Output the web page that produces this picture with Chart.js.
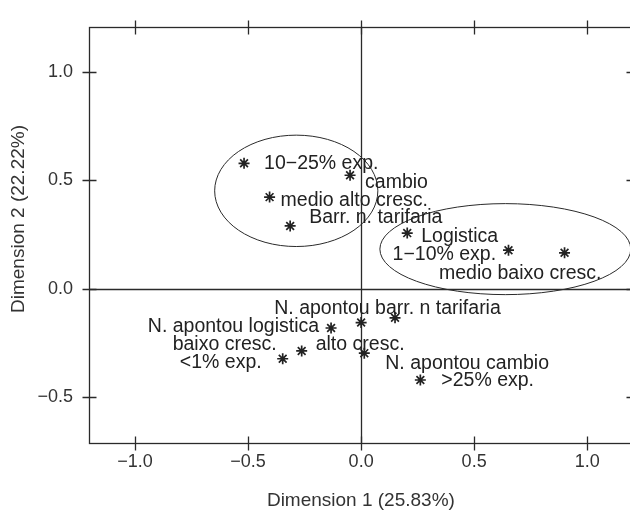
<!DOCTYPE html>
<html>
<head>
<meta charset="utf-8">
<script src="https://cdn.jsdelivr.net/npm/chart.js@4/dist/chart.umd.min.js"></script>
<style>
  html, body { margin: 0; padding: 0; overflow: hidden; background: #fff; }
  canvas { display: block; }
</style>
</head>
<body>
<canvas id="c" width="640" height="512"></canvas>
<script>
// Category coordinates on the first two dimensions
const categories = [
  "10\u221225% exp.", "cambio", "medio alto cresc.", "Barr. n. tarifaria",
  "Logistica", "1\u221210% exp.", "medio baixo cresc.",
  "N. apontou barr. n tarifaria", "alto cresc.", "N. apontou logistica",
  "baixo cresc.", "<1% exp.", "N. apontou cambio", ">25% exp."
];
const dim1 = [-0.518, -0.049, -0.405, -0.314, 0.204, 0.652, 0.900,
               0.150,  0.000, -0.133, -0.263, -0.347, 0.014, 0.262];
const dim2 = [ 0.579,  0.524,  0.423,  0.290, 0.257, 0.178, 0.166,
              -0.134, -0.156, -0.181, -0.287, -0.323, -0.297, -0.421];

// Axis ticks and titles
const tickValuesX = [-1.0, -0.5, 0.0, 0.5, 1.0];
const tickValuesY = [-0.5, 0.0, 0.5, 1.0];
const xLimits = [-1.204, 1.202];
const yLimits = [-0.7117, 1.209];
const xTitle = 'Dimension 1 (25.83%)';
const yTitle = 'Dimension 2 (22.22%)';

// Cluster ellipses (centre and half-axes in plot units)
const ellipseCx = [-0.287, 0.638];
const ellipseCy = [0.452, 0.183];
const ellipseRx = [0.361, 0.555];
const ellipseRy = [0.257, 0.210];

// Label placement relative to each marker, in pixels
const labelLayout = [
  { dx: 20,    dy: 0.7,  align: 'left'   },
  { dx: 15,    dy: 7.6,  align: 'left'   },
  { dx: 11,    dy: 3.4,  align: 'left'   },
  { dx: 19,    dy: -8.3, align: 'left'   },
  { dx: 14,    dy: 3.6,  align: 'left'   },
  { dx: -12.4, dy: 4.4,  align: 'right'  },
  { dx: 37,    dy: 20.7, align: 'right'  },
  { dx: -7.5,  dy: -9.3, align: 'center' },
  { dx: -1,    dy: 22.4, align: 'center' },
  { dx: -12,   dy: -1.3, align: 'right'  },
  { dx: -25,   dy: -6,   align: 'right'  },
  { dx: -21,   dy: 3.6,  align: 'right'  },
  { dx: 21,    dy: 10,   align: 'left'   },
  { dx: 21,    dy: 0.6,  align: 'left'   }
];

const INK = '#222';
const FONT = '"Liberation Sans", Arial, Helvetica, sans-serif';
Chart.defaults.font.family = FONT;
Chart.defaults.color = INK;

const fmt = v => (v < 0 ? '\u2212' : '') + Math.abs(v).toFixed(1);

const decorations = {
  id: 'decorations',
  beforeDatasetsDraw(chart) {
    const { ctx, chartArea: a, scales: { x, y } } = chart;
    ctx.save();
    ctx.strokeStyle = '#2a2a2a';
    // ellipses around the two clusters
    ctx.lineWidth = 1;
    for (let i = 0; i < ellipseCx.length; i++) {
      const cx = x.getPixelForValue(ellipseCx[i]);
      const cy = y.getPixelForValue(ellipseCy[i]);
      const rx = Math.abs(x.getPixelForValue(ellipseCx[i] + ellipseRx[i]) - cx);
      const ry = Math.abs(y.getPixelForValue(ellipseCy[i] + ellipseRy[i]) - cy);
      ctx.beginPath();
      ctx.ellipse(cx, cy, rx, ry, 0, 0, Math.PI * 2);
      ctx.stroke();
    }
    // reference lines through the origin
    ctx.lineWidth = 1.3;
    const x0 = Math.round(x.getPixelForValue(0)) + 0.5;
    const y0 = Math.round(y.getPixelForValue(0)) + 0.5;
    ctx.beginPath();
    ctx.moveTo(x0, a.top); ctx.lineTo(x0, a.bottom);
    ctx.moveTo(a.left, y0); ctx.lineTo(a.right, y0);
    ctx.stroke();
    ctx.restore();
  },
  afterDatasetsDraw(chart) {
    const { ctx, scales: { x, y } } = chart;
    ctx.save();
    ctx.fillStyle = INK;
    ctx.font = '19.5px ' + FONT;
    ctx.textBaseline = 'middle';
    categories.forEach((name, i) => {
      const px = x.getPixelForValue(dim1[i]);
      const py = y.getPixelForValue(dim2[i]);
      const l = labelLayout[i];
      ctx.textAlign = l.align;
      ctx.fillText(name, px + l.dx, py + l.dy);
    });
    ctx.restore();
  },
  afterDraw(chart) {
    const { ctx, chartArea: a, scales: { x, y } } = chart;
    ctx.save();
    ctx.strokeStyle = '#2a2a2a';
    ctx.lineWidth = 1.3;
    const L = Math.round(a.left) + 0.5, R = Math.round(a.right) + 0.5;
    const T = Math.round(a.top) + 0.5, B = Math.round(a.bottom) + 0.5;
    ctx.strokeRect(L, T, R - L, B - T);
    const half = 7;
    ctx.beginPath();
    tickValuesX.forEach(v => {
      const px = Math.round(x.getPixelForValue(v)) + 0.5;
      ctx.moveTo(px, B - half); ctx.lineTo(px, B + half);
      ctx.moveTo(px, T - half); ctx.lineTo(px, T + half);
    });
    tickValuesY.forEach(v => {
      const py = Math.round(y.getPixelForValue(v)) + 0.5;
      ctx.moveTo(L - half, py); ctx.lineTo(L + half, py);
      ctx.moveTo(R - half, py); ctx.lineTo(R + half, py);
    });
    ctx.stroke();
    // vertical axis title
    ctx.fillStyle = '#333';
    ctx.font = '19px ' + FONT;
    ctx.textAlign = 'center';
    ctx.textBaseline = 'middle';
    ctx.translate(18.5, 219);
    ctx.rotate(-Math.PI / 2);
    ctx.fillText(yTitle, 0, 0);
    ctx.restore();
  }
};

new Chart(document.getElementById('c'), {
  type: 'scatter',
  data: {
    datasets: [{
      label: 'categorias',
      data: dim1.map((v, i) => ({ x: v, y: dim2[i] })),
      pointStyle: 'star',
      pointRadius: 5.5,
      pointBorderWidth: 1.7,
      borderColor: INK,
      backgroundColor: INK
    }]
  },
  options: {
    responsive: false,
    animation: false,
    events: [],
    layout: { padding: { top: 12, right: 6, bottom: 0, left: 0 } },
    plugins: { legend: { display: false }, tooltip: { enabled: false } },
    scales: {
      x: {
        type: 'linear',
        min: xLimits[0], max: xLimits[1],
        afterBuildTicks: s => { s.ticks = tickValuesX.map(v => ({ value: v })); },
        afterFit: s => { s.height = 69; },
        grid: { display: false, drawTicks: false },
        border: { display: false },
        ticks: { callback: fmt, padding: 8, font: { size: 18 }, color: '#333', maxRotation: 0 },
        title: { display: true, text: xTitle, font: { size: 19 }, color: '#333', padding: { top: 0, bottom: 0 } }
      },
      y: {
        type: 'linear',
        min: yLimits[0], max: yLimits[1],
        afterBuildTicks: s => { s.ticks = tickValuesY.map(v => ({ value: v })); },
        afterFit: s => { s.width = 89; },
        grid: { display: false, drawTicks: false },
        border: { display: false },
        ticks: { callback: fmt, padding: 16, font: { size: 18 }, color: '#333' },
        title: { display: false }
      }
    }
  },
  plugins: [decorations]
});
</script>
</body>
</html>
